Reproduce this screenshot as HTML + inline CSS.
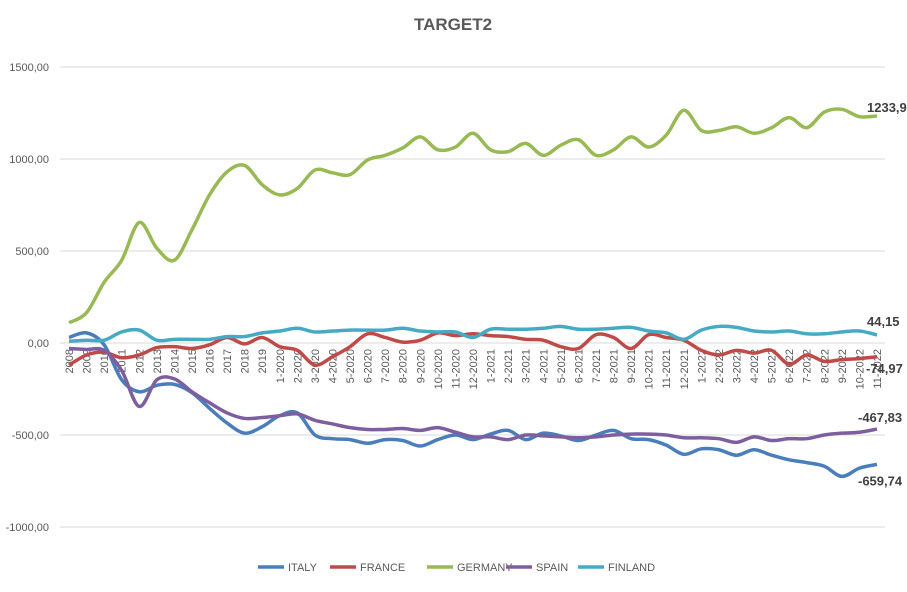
<!DOCTYPE html>
<html><head><meta charset="utf-8"><style>
body{margin:0;background:#fff;}
svg text{font-family:"Liberation Sans",sans-serif;}
</style></head><body>
<svg id="chart" width="907" height="587" xmlns="http://www.w3.org/2000/svg">
<rect width="907" height="587" fill="#fff"/>
<text x="453" y="30" text-anchor="middle" font-size="17" font-weight="bold" fill="#595959">TARGET2</text>
<g id="grid"></g><g id="yticks"></g><g id="xticks"></g><g id="series"></g><g id="labels"></g><g id="legend"></g>
</svg>
<script>
const categories=["2008","2009","2010","2011","2012","2013","2014","2015","2016","2017","2018","2019",
"1-2020","2-2020","3-2020","4-2020","5-2020","6-2020","7-2020","8-2020","9-2020","10-2020","11-2020","12-2020",
"1-2021","2-2021","3-2021","4-2021","5-2021","6-2021","7-2021","8-2021","9-2021","10-2021","11-2021","12-2021",
"1-2022","2-2022","3-2022","4-2022","5-2022","6-2022","7-2022","8-2022","9-2022","10-2022","11-2022"];
const italy=[30,55,-10,-200,-265,-230,-225,-270,-355,-435,-490,-455,-395,-380,-500,-520,-525,-545,-525,-530,-560,-525,-500,-525,-495,-475,-525,-490,-505,-530,-500,-475,-520,-525,-555,-605,-575,-580,-610,-580,-610,-635,-650,-670,-725,-680,-659.74];
const france=[-120,-65,-50,-80,-65,-25,-20,-30,-10,30,-5,30,-20,-40,-120,-75,-20,50,30,5,15,55,40,50,40,35,20,15,-20,-30,45,30,-30,45,30,15,-40,-65,-40,-55,-40,-115,-65,-100,-90,-85,-74.97];
const germany=[110,165,330,450,655,515,450,615,805,930,965,860,805,840,940,925,915,995,1020,1060,1120,1050,1065,1140,1050,1040,1085,1020,1075,1105,1020,1050,1120,1065,1130,1265,1155,1155,1175,1140,1170,1225,1170,1255,1270,1230,1233.98];
const spain=[-30,-35,-40,-150,-345,-200,-195,-265,-325,-380,-410,-405,-395,-385,-420,-440,-460,-470,-470,-465,-475,-460,-485,-510,-510,-525,-500,-505,-510,-515,-510,-500,-495,-495,-500,-515,-515,-520,-540,-510,-530,-520,-520,-500,-490,-485,-467.83];
const finland=[10,15,15,60,70,15,20,20,20,35,35,55,65,80,60,65,70,70,70,80,65,60,60,30,75,75,75,80,90,75,75,80,85,65,55,20,70,90,85,65,60,65,50,50,60,65,44.15];
const yTicks=[1500,1000,500,0,-500,-1000];
const yTickLabels=["1500,00","1000,00","500,00","0,00","-500,00","-1000,00"];
const seriesNames=["ITALY","FRANCE","GERMANY","SPAIN","FINLAND"];
const colors=["#4a7ebb","#be4b48","#98b954","#7d5fa0","#46aac5"];
const NS="http://www.w3.org/2000/svg";
function X(i){return 69+i*(877-69)/(categories.length-1);}
function Y(v){return 343-v*0.184;}
function mk(t,a,p){const e=document.createElementNS(NS,t);for(const k in a)e.setAttribute(k,a[k]);p.appendChild(e);return e;}
const grid=document.getElementById('grid'),yt=document.getElementById('yticks'),xt=document.getElementById('xticks');
yTicks.forEach((v,i)=>{
 const l=mk('line',{x1:60,x2:885,y1:Y(v),y2:Y(v),stroke:'#d9d9d9','stroke-width':1},grid);
 
 
 const t=mk('text',{x:49,y:Y(v)+4,'text-anchor':'end','font-size':11,fill:'#595959'},yt);
 t.textContent=yTickLabels[i];
 
 
});
categories.forEach((c,i)=>{
 const t=mk('text',{x:0,y:0,'text-anchor':'end','font-size':11,fill:'#595959',transform:`translate(${X(i)+4},349) rotate(-90)`},xt);
 t.textContent=c;
 
 
});
function path(vals){
 const p=vals.map((v,i)=>[X(i),Y(v)]);let d=`M${p[0][0]},${p[0][1]}`;
 for(let i=0;i<p.length-1;i++){const p0=p[i-1]||p[i],p1=p[i],p2=p[i+1],p3=p[i+2]||p2;
 d+=` C${p1[0]+(p2[0]-p0[0])/6},${p1[1]+(p2[1]-p0[1])/6} ${p2[0]-(p3[0]-p1[0])/6},${p2[1]-(p3[1]-p1[1])/6} ${p2[0]},${p2[1]}`;}
 return d;}
const sg=document.getElementById('series');
[italy,france,germany,spain,finland].forEach((s,k)=>{
 const e=mk('path',{d:path(s),fill:'none',stroke:colors[k],'stroke-width':3.5,'stroke-linejoin':'round'},sg);
 
 
});
const lg=document.getElementById('labels');
const last=categories.length-1;
[[germany,-10,-8],[finland,-10,-13],[france,-11,12],[spain,-19,-11],[italy,-19,17]].forEach(([s,dx,dy])=>{
 const v=s[last];
 const t=mk('text',{x:X(last)+dx,y:Y(v)+dy+4,'font-size':13,'font-weight':'bold',fill:'#404040'},lg);
 t.textContent=v.toFixed(2).replace('.',',');
 
 
});
const leg=document.getElementById('legend');
const lx=[258,330,427,506,578];
seriesNames.forEach((n,k)=>{
 const g=mk('g',{},leg);
 
 
 mk('line',{x1:lx[k],x2:lx[k]+26,y1:567,y2:567,stroke:colors[k],'stroke-width':3.5},g);
 const t=mk('text',{x:lx[k]+30,y:571,'font-size':11,fill:'#595959'},g);
 t.textContent=n;
});
</script>
</body></html>
